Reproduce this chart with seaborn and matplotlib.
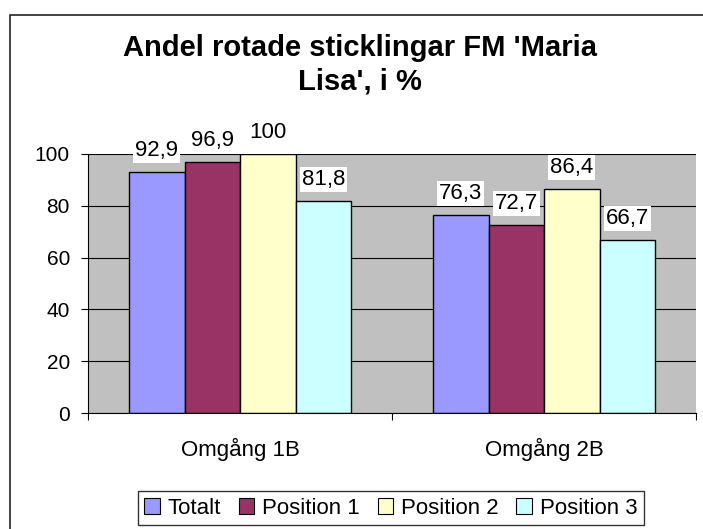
import pandas as pd
import matplotlib.pyplot as plt
import matplotlib.patches as mpatches
import seaborn as sns

# Data
rounds = ['Omgång 1B', 'Omgång 2B']
series = ['Totalt', 'Position 1', 'Position 2', 'Position 3']
totalt = [92.9, 76.3]
position_1 = [96.9, 72.7]
position_2 = [100, 86.4]
position_3 = [81.8, 66.7]
colors = ['#9999FF', '#993366', '#FFFFCC', '#CCFFFF']
y_ticks = [0, 20, 40, 60, 80, 100]

rows = []
for name, vals in zip(series, [totalt, position_1, position_2, position_3]):
    for r, v in zip(rounds, vals):
        rows.append({'Omgång': r, 'Serie': name, 'Andel': v})
df = pd.DataFrame(rows)

sns.set_theme(style='white')
plt.rcParams['font.family'] = ['Liberation Sans', 'DejaVu Sans']
plt.rcParams['text.color'] = 'black'
plt.rcParams['xtick.color'] = 'black'
plt.rcParams['ytick.color'] = 'black'

fig = plt.figure(figsize=(7.03, 5.29), dpi=100)
ax = fig.add_axes([0.1252, 0.219, 0.865, 0.490])

sns.barplot(data=df, x='Omgång', y='Andel', hue='Serie', hue_order=series,
            palette=colors, width=0.73, edgecolor='black', linewidth=1,
            saturation=1, ax=ax, legend=False)

ax.set_facecolor('#C0C0C0')
ax.set_ylim(0, 100)
ax.set_xlim(-0.5, 1.5)
ax.set_yticks(y_ticks)
ax.set_yticklabels([str(t) for t in y_ticks], fontsize=15)
ax.yaxis.grid(True, color='black', linewidth=0.8)
ax.set_axisbelow(True)
ax.set_xlabel('')
ax.set_ylabel('')
ax.tick_params(axis='x', labelsize=16, length=0, pad=18, labelcolor='black')
ax.tick_params(axis='y', left=True, length=5, width=0.8, color='black', pad=8,
               labelcolor='black')
ax.set_xticks([-0.5, 0.5, 1.5], minor=True)
ax.tick_params(axis='x', which='minor', bottom=True, length=5, width=0.8, color='black')
for side in ['top', 'right']:
    ax.spines[side].set_visible(False)
for side in ['left', 'bottom']:
    ax.spines[side].set_color('black')
    ax.spines[side].set_linewidth(0.8)

# value labels with decimal comma on white boxes
for container in ax.containers:
    labels = [f'{v:g}'.replace('.', ',') for v in container.datavalues]
    ax.bar_label(container, labels=labels, padding=8, fontsize=16, color='black',
                 bbox=dict(facecolor='white', edgecolor='none', pad=1.5),
                 clip_on=False)

fig.text(0.512, 0.830, "Andel rotade sticklingar FM 'Maria\nLisa', i %",
         ha='center', va='baseline', fontsize=21, fontweight='bold',
         color='black', linespacing=1.25)

handles = [mpatches.Patch(facecolor=c, edgecolor='black', linewidth=0.8) for c in colors]
leg = ax.legend(handles, series, loc='upper center', bbox_to_anchor=(0.556, 0.072),
                bbox_transform=fig.transFigure, ncol=4, fontsize=16, frameon=True,
                fancybox=False, edgecolor='black', handlelength=0.7, handleheight=0.7,
                handletextpad=0.35, columnspacing=0.8, borderpad=0.3, borderaxespad=0)
for t in leg.get_texts():
    t.set_color('black')

# outer chart border (cut off at the right and bottom like the reference)
fig.patches.append(mpatches.Rectangle((0.0142, -0.05), 1.1, 1.0216, transform=fig.transFigure,
                                      fill=False, edgecolor='#222222', linewidth=1.2))

plt.savefig('out.png', dpi=100)
